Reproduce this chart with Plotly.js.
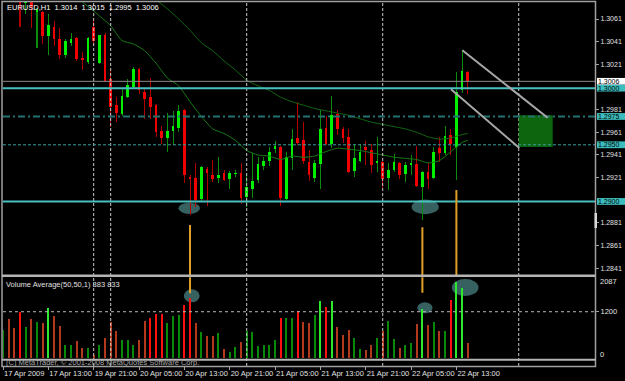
<!DOCTYPE html>
<html><head><meta charset="utf-8">
<script src="https://cdn.plot.ly/plotly-3.0.1.min.js"></script>
<style>html,body{margin:0;padding:0;background:#000;}#chart{width:625px;height:381px;}</style>
</head><body><div id="chart"></div>
<script>
// ---------------- data (EURUSD H1, bar 0 = 17 Apr 2009 05:00) ----------------
const symbol = 'EURUSD,H1';
const open = [1.3086,1.3091,1.3085,1.3080,1.3075,1.3080,1.3067,1.3067,1.3046,1.3054,
1.3043,1.3029,1.3040,1.3044,1.3027,1.3023,1.3054,1.3022,1.3047,1.3008,
1.2985,1.2977,1.2992,1.3001,1.3017,1.2997,1.2992,1.2985,1.2962,1.2956,
1.2962,1.2965,1.2981,1.2922,1.2921,1.2902,1.2929,1.2923,1.2921,1.2925,
1.2920,1.2924,1.2925,1.2904,1.2911,1.2919,1.2931,1.2936,1.2946,1.2948,
1.2902,1.2938,1.2956,1.2954,1.2935,1.2921,1.2933,1.2965,1.2951,1.2977,
1.2964,1.2957,1.2927,1.2936,1.2948,1.2945,1.2934,1.2935,1.2921,1.2928,
1.2934,1.2924,1.2932,1.2933,1.2913,1.2926,1.2921,1.2947,1.2943,1.2959,
1.2948,1.2998,1.3014];
const high = [1.3094,1.3096,1.3088,1.3083,1.3082,1.3082,1.3071,1.3068,1.3065,1.3059,
1.3053,1.3043,1.3049,1.3045,1.3032,1.3045,1.3059,1.3047,1.3049,1.3016,
1.2992,1.3000,1.3008,1.3019,1.3018,1.3000,1.3009,1.2986,1.2967,1.2978,
1.2980,1.2985,1.2982,1.2923,1.2934,1.2931,1.2930,1.2937,1.2939,1.2928,
1.2927,1.2928,1.2934,1.2923,1.2943,1.2939,1.2939,1.2948,1.2953,1.2949,
1.2944,1.2964,1.2988,1.2970,1.2945,1.2937,1.2981,1.2975,1.2993,1.2981,
1.2966,1.2964,1.2951,1.2951,1.2953,1.2951,1.2957,1.2936,1.2934,1.2942,
1.2935,1.2935,1.2941,1.2949,1.2927,1.2934,1.2948,1.2957,1.2967,1.2964,
1.3014,1.3034,1.3015];
const low = [1.3082,1.3083,1.3078,1.3054,1.3065,1.3053,1.3035,1.3039,1.3029,1.3037,
1.3026,1.3027,1.3037,1.3024,1.3016,1.3021,1.3038,1.3021,1.3005,1.2966,
1.2970,1.2975,1.2991,1.3000,1.2995,1.2973,1.2973,1.2957,1.2951,1.2944,
1.2950,1.2961,1.2916,1.2888,1.2895,1.2900,1.2896,1.2917,1.2916,1.2918,
1.2911,1.2922,1.2898,1.2895,1.2903,1.2916,1.2928,1.2931,1.2943,1.2896,
1.2901,1.2928,1.2950,1.2933,1.2918,1.2917,1.2911,1.2950,1.2947,1.2959,
1.2952,1.2925,1.2922,1.2935,1.2932,1.2925,1.2926,1.2912,1.2910,1.2926,
1.2920,1.2917,1.2923,1.2913,1.2884,1.2911,1.2920,1.2935,1.2941,1.2941,
1.2919,1.2996,1.2995];
const close = [1.3091,1.3085,1.3080,1.3075,1.3080,1.3072,1.3069,1.3046,1.3056,1.3043,
1.3029,1.3042,1.3043,1.3026,1.3025,1.3044,1.3042,1.3047,1.3006,1.2983,
1.2978,1.2993,1.3003,1.3017,1.2998,1.2990,1.2983,1.2961,1.2956,1.2962,
1.2967,1.2980,1.2923,1.2920,1.2901,1.2930,1.2925,1.2920,1.2923,1.2919,
1.2925,1.2925,1.2903,1.2913,1.2918,1.2933,1.2936,1.2944,1.2949,1.2903,
1.2939,1.2955,1.2952,1.2936,1.2923,1.2934,1.2964,1.2951,1.2976,1.2964,
1.2956,1.2926,1.2938,1.2944,1.2945,1.2932,1.2936,1.2920,1.2928,1.2935,
1.2923,1.2932,1.2934,1.2914,1.2926,1.2920,1.2944,1.2943,1.2958,1.2951,
1.2997,1.3015,1.3006];
const volume = [730,1005,773,1185,807,1005,936,919,1306,1091,
842,335,352,455,258,258,86,335,515,945,
704,464,464,335,464,962,1048,1142,1142,919,
1091,1117,1383,1546,919,670,584,575,653,232,
172,292,412,713,687,318,352,335,472,1048,
1031,1031,1220,936,902,1125,1486,1323,1477,807,
610,722,533,241,223,352,515,713,962,498,
266,344,395,885,1263,859,928,704,713,1503,
1976,1804,383];
const volumeAboveAverage = [0,0,0,1,0,0,0,0,1,0, 0,0,0,0,0,0,0,0,0,0,
0,0,0,0,0,0,1,1,1,0, 0,0,1,1,0,0,0,0,0,0, 0,0,0,0,0,0,0,0,0,1,
0,0,1,0,0,0,1,1,1,0, 0,0,0,0,0,0,0,0,0,0, 0,0,0,0,1,0,0,0,0,1, 1,1,0];
const volumeAverage = 833;
const volumeMax = 2087;
const volumeLevel = 1200;

const timeTickIndex = [0,8,16,24,32,40,48,56,64,72,80];
const timeTickLabels = ['17 Apr 2009','17 Apr 13:00','19 Apr 21:00','20 Apr 05:00','20 Apr 13:00',
  '20 Apr 21:00','21 Apr 05:00','21 Apr 13:00','21 Apr 21:00','22 Apr 05:00','22 Apr 13:00'];
const priceTicks = [1.2841,1.2861,1.2881,1.2921,1.2941,1.2961,1.2981,1.3021,1.3041,1.3061];
const daySeparators = [16,19,43,67,91];

const fastMAIndex = [13,14,16,19,21,23,25,27,29,31,33,35,37,39,41,43,45,47,49,51,53,55,57,59,61,63,65,67,69,71,73,75,77,79,81,82];
const fastMA = [1.3080,1.3076,1.3068,1.3055,1.3042,1.3039,1.3033,1.3022,1.3009,1.3002,1.2988,1.2975,1.2964,1.2960,1.2954,1.2945,1.2941,1.2940,1.2937,1.2940,1.2939,1.2940,1.2944,1.2947,1.2946,1.2945,1.2943,1.2941,1.2939,1.2938,1.2937,1.2934,1.2936,1.2944,1.2952,1.2954];
const slowMAIndex = [27,29,31,33,35,37,39,41,43,45,47,49,51,53,55,57,59,61,63,65,67,69,71,73,75,77,79,81,82];
const slowMA = [1.3078,1.3070,1.3061,1.3051,1.3040,1.3033,1.3024,1.3016,1.3007,1.3002,1.2998,1.2992,1.2988,1.2985,1.2982,1.2980,1.2978,1.2976,1.2973,1.2970,1.2968,1.2966,1.2964,1.2961,1.2957,1.2955,1.2956,1.2959,1.2960];

const keyLevels = [1.3000, 1.2900];       // solid cyan lines
const targetLevel = 1.2975;               // dash-dot line
const stopLevel = 1.2950;                 // dashed line
const channelUpper = {x:[81.05, 96.1], y:[1.30334, 1.29739]};
const channelLower = {x:[79.05, 91.1], y:[1.2999, 1.29472]};
const targetBox = {x:[91, 97], y:[1.2976, 1.2948]};
const markerBars = [33, 74, 80];

// ---------------- drawing ----------------
const FONT = "'Liberation Sans', Arial, sans-serif";
const FS = 7.5;
const n = open.length;
const idx = open.map((_, i) => i);
const isUp = idx.map(i => close[i] >= open[i]);
const px = x => (x - 3) / 592;          // pixel -> paper x (layout only)
const py = y => (366 - y) / 364;        // pixel -> paper y (layout only)
const PRICE_PER_PX = (1.30760 - 1.28351) / 273;

const wick = {type:'bar', x: idx, base: low, y: idx.map(i => high[i] - low[i]), width: 0.18,
  marker:{color: isUp.map(u => u ? '#0c8c0c' : '#b00000'), line:{width:0}}, xaxis:'x', yaxis:'y', hoverinfo:'skip'};
const body = {type:'bar', x: idx, base: idx.map(i => Math.min(open[i], close[i])),
  y: idx.map(i => Math.max(Math.abs(close[i] - open[i]), 0.00008)), width: 0.5,
  marker:{color: isUp.map(u => u ? '#00f000' : '#f00000'), line:{width:0}}, xaxis:'x', yaxis:'y', hoverinfo:'skip'};
const maFast = {type:'scatter', mode:'lines', x: fastMAIndex, y: fastMA, line:{color:'#177a17', width:1, shape:'spline', smoothing:0.6}, xaxis:'x', yaxis:'y', hoverinfo:'skip'};
const maSlow = {type:'scatter', mode:'lines', x: slowMAIndex, y: slowMA, line:{color:'#126612', width:1, shape:'spline', smoothing:0.6}, xaxis:'x', yaxis:'y', hoverinfo:'skip'};
const vol = {type:'bar', x: idx, y: volume, width: 0.36, xaxis:'x', yaxis:'y2', hoverinfo:'skip',
  marker:{color: idx.map(i => isUp[i] ? (volumeAboveAverage[i] ? '#2ee82e' : '#078a07') : (volumeAboveAverage[i] ? '#ff1010' : '#b3391c')), line:{width:0}}};

const shapes = [];
const hline = (yref, v, color, width, dash) => shapes.push({type:'line', xref:'paper', x0:0, x1:1, yref, y0:v, y1:v, line:{color, width, dash: dash || 'solid'}});
// day separators
daySeparators.forEach(d => shapes.push({type:'line', xref:'x', x0:d, x1:d, yref:'paper', y0:0, y1:1, line:{color:'#c8c8c8', width:1, dash:'3px,2px'}}));
// ellipses (behind the bars)
const ell = (yref, x0, x1, y0, y1) => shapes.push({type:'circle', layer:'below', xref:'x', yref, x0, x1, y0, y1, fillcolor:'#376060', line:{width:0}});
ell('y', 30.97, 34.76, 1.28989, 1.28889);
ell('y', 72.1, 76.9, 1.29017, 1.28887);
ell('y2', 31.9, 34.7, 1778, 1443);
ell('y2', 73.1, 75.8, 1443, 1159);
ell('y2', 79.2, 83.9, 2043, 1605);
// target box
shapes.push({type:'rect', xref:'x', yref:'y', x0:targetBox.x[0], x1:targetBox.x[1], y0:targetBox.y[0], y1:targetBox.y[1], fillcolor:'#0d660d', line:{width:0}});
// price lines
hline('y', close[n-1], '#8c8c8c', 1);
keyLevels.forEach(v => hline('y', v, '#48c0c0', 2));
hline('y', targetLevel, '#257272', 2, '7px,3px,2px,3px');
hline('y', stopLevel, '#3a9e9e', 1, '3px,2px');
hline('y2', volumeLevel, '#b8b8b8', 1, '3px,3px');
// channel lines
[channelUpper, channelLower].forEach(c => shapes.push({type:'line', xref:'x', yref:'y', x0:c.x[0], x1:c.x[1], y0:c.y[0], y1:c.y[1], line:{color:'#a8a8a8', width:2}}));
// orange markers (main pane from below the low, volume pane down from the top)
const orangeMain = [1.28792, 1.28772, 1.29101];
markerBars.forEach((b, k) => shapes.push({type:'line', xref:'x', yref:'y', x0:b, x1:b, y0:orangeMain[k], y1:1.2800, line:{color:'#e0a028', width:2}}));
const orangeVol = [1675, 1690];
[33, 74].forEach((b, k) => shapes.push({type:'line', xref:'x', yref:'y2', x0:b, x1:b, y0:orangeVol[k], y1:2500, line:{color:'#e0a028', width:2}}));
// frame & pane separators
shapes.push({type:'rect', xref:'paper', yref:'paper', x0:px(2), x1:px(595.5), y0:py(366.5), y1:py(1.5), line:{color:'#a0a0a0', width:1.5}});
shapes.push({type:'line', xref:'paper', yref:'paper', x0:px(2), x1:px(595.5), y0:py(275.8), y1:py(275.8), line:{color:'#b4b4b4', width:2.5}});
shapes.push({type:'line', xref:'paper', yref:'paper', x0:px(2), x1:px(595.5), y0:py(359.8), y1:py(359.8), line:{color:'#b4b4b4', width:2}});
shapes.push({type:'rect', xref:'paper', yref:'paper', x0:px(594.5), x1:px(597), y0:py(228), y1:py(213), fillcolor:'#d8d8d8', line:{width:0}});

const ann = [];
const txt = (text, x, y, color, extra) => ann.push(Object.assign({text, xref:'paper', yref:'paper', x, y, xanchor:'left', yanchor:'middle', showarrow:false, font:{family:FONT, size:FS, color}}, extra||{}));
const f4 = v => v.toFixed(4);
txt(symbol + '\u00a0\u00a0' + [open[n-1], high[n-1], low[n-1], close[n-1]].map(f4).join('\u00a0\u00a0'), px(5), py(7.5), '#ffffff');
txt('Volume Average(50,50,1) ' + volume[n-1] + ' ' + volumeAverage, px(4), py(284), '#e0e0e0');
txt('(C) MetaTrader, \u00a9 2001-2008 MetaQuotes Software Corp.', px(4), py(362.8), '#a8a8a8');
// volume pane min / max labels (drawn just inside the pane, as MT4 does)
ann.push({text: String(volumeMax), xref:'paper', x:1, xanchor:'left', xshift:3, yref:'y2', y:volumeMax, yshift:-4, yanchor:'middle', showarrow:false, font:{family:FONT, size:FS, color:'#e0e0e0'}});
ann.push({text: '0', xref:'paper', x:1, xanchor:'left', xshift:3, yref:'y2', y:0, yshift:4, yanchor:'middle', showarrow:false, font:{family:FONT, size:FS, color:'#e0e0e0'}});
// price boxes on the scale (compact box shape + label)
const boxes = [[close[n-1], '#ffffff'], [keyLevels[0], '#3cbcbc'], [targetLevel, '#3cbcbc'], [stopLevel, '#3cbcbc'], [keyLevels[1], '#3cbcbc']];
const halfBox = 3.4 * PRICE_PER_PX;
boxes.forEach(([v, bg]) => {
  shapes.push({type:'rect', xref:'paper', yref:'y', x0:px(597), x1:px(625), y0:v - halfBox, y1:v + halfBox, fillcolor:bg, line:{width:0}});
  ann.push({text: f4(v), xref:'paper', x:1, xanchor:'left', xshift:2, yref:'y', y:v, yanchor:'middle', showarrow:false,
    borderpad:0, font:{family:FONT, size:7, color:'#000000'}});
});

const axisFont = {family:FONT, size:FS, color:'#e0e0e0'};
const layout = {
  width:625, height:381, margin:{l:3, r:30, t:2, b:15, pad:0},
  paper_bgcolor:'#000000', plot_bgcolor:'#000000', showlegend:false, barmode:'overlay', bargap:0,
  font:{family:FONT, size:FS, color:'#e0e0e0'},
  xaxis:{domain:[0,1], range:[0,104.46], anchor:'free', position:0, showgrid:false, zeroline:false,
    tickmode:'array', tickvals:timeTickIndex, ticktext:timeTickLabels, ticks:'outside', ticklen:3, tickcolor:'#a0a0a0',
    tickangle:0, ticklabelposition:'outside right', showline:true, linecolor:'#a0a0a0', linewidth:1, tickfont:axisFont},
  yaxis:{domain:[0.25,1], range:[1.28351,1.30760], side:'right', anchor:'x', showgrid:false, zeroline:false,
    tickmode:'array', tickvals:priceTicks, tickformat:'.4f', ticks:'outside', ticklen:3, tickcolor:'#a0a0a0',
    showline:true, linecolor:'#a0a0a0', tickfont:{family:FONT, size:7, color:'#e0e0e0'}},
  yaxis2:{domain:[0.02115,0.24368], range:[0,volumeMax], side:'right', anchor:'x', showgrid:false, zeroline:false,
    tickmode:'array', tickvals:[volumeLevel], ticks:'outside', ticklen:3, tickcolor:'#a0a0a0',
    showline:true, linecolor:'#a0a0a0', tickfont:axisFont},
  shapes, annotations: ann
};
Plotly.newPlot('chart', [wick, body, maSlow, maFast, vol], layout, {staticPlot:true, displayModeBar:false});
</script></body></html>
